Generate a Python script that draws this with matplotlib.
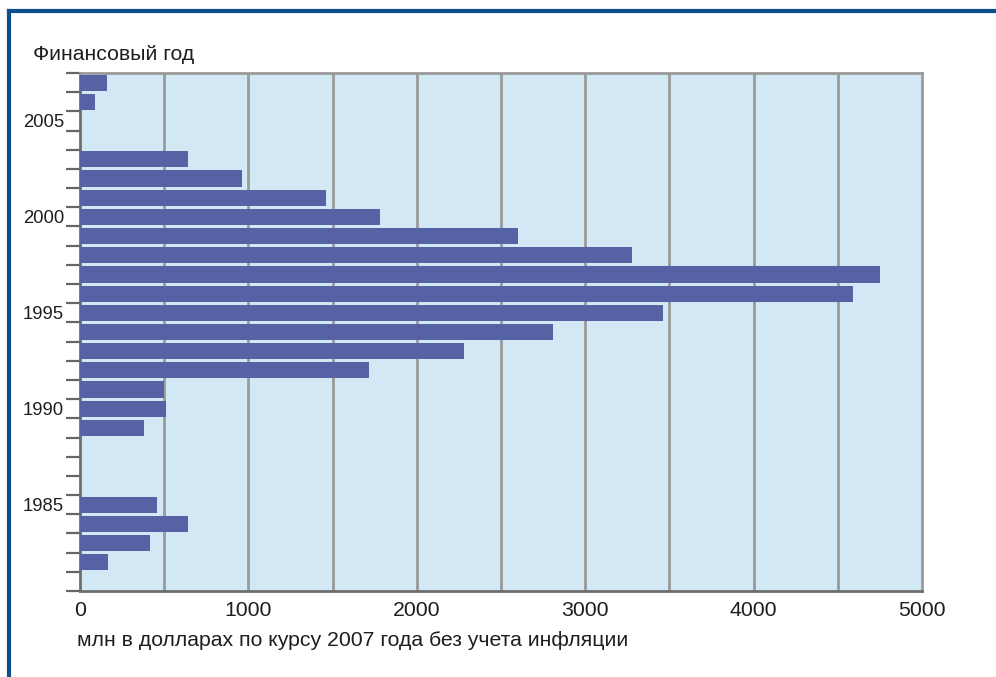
import numpy as np
import matplotlib.pyplot as plt
from matplotlib.lines import Line2D

# финансовые годы и значения (млн долларов, курс 2007 г.)
years = [2007, 2006, 2005, 2004, 2003, 2002, 2001, 2000, 1999, 1998, 1997, 1996,
         1995, 1994, 1993, 1992, 1991, 1990, 1989, 1988, 1987, 1986, 1985, 1984,
         1983, 1982]
values = [160, 89, 0, 0, 641, 962, 1461, 1781, 2601, 3278, 4751, 4590,
          3462, 2809, 2280, 1716, 499, 511, 380, 0, 0, 0, 457, 641,
          416, 166]
year_labels = [1985, 1990, 1995, 2000, 2005]
x_ticks = [0, 1000, 2000, 3000, 4000, 5000]

plt.rcParams['font.family'] = ['Liberation Sans', 'DejaVu Sans']
FS = 15.3
TXT = '#1e1e1e'

W, H = 996, 677
fig = plt.figure(figsize=(W / 100, H / 100), dpi=100)
ax = fig.add_axes([80 / W, (H - 591) / H, 842 / W, 518 / H])
ax.set_facecolor('#d3e8f5')

ax.barh(years, values, height=0.84, color='#5563a5', zorder=3)

ax.set_xlim(0, 5000)
ax.set_ylim(1980.5, 2007.5)

# вертикальная сетка каждые 500
for gx in np.arange(500, 5000, 500):
    ax.axvline(gx, color='#9a9a9a', lw=2, zorder=1)

ax.set_xticks(x_ticks)
ax.set_xticklabels([str(v) for v in x_ticks], fontsize=FS, color=TXT)
ax.tick_params(axis='x', length=0, pad=7)

ax.set_yticks(year_labels)
ax.set_yticklabels([str(y) for y in year_labels], fontsize=13.3, color=TXT)
ax.set_yticks(np.arange(1980.5, 2008, 1), minor=True)
ax.tick_params(axis='y', which='major', length=0, pad=11.5)
ax.tick_params(axis='y', which='minor', length=10, width=1.6, color='#666666', direction='out')

for side in ['left', 'bottom']:
    ax.spines[side].set_color('#6e6e6e')
    ax.spines[side].set_linewidth(2)
for side in ['top', 'right']:
    ax.spines[side].set_color('#9a9a9a')
    ax.spines[side].set_linewidth(2)

fig.text(33 / W, 1 - 54 / H, 'Финансовый год', fontsize=FS, color=TXT, va='center')
fig.text(77 / W, 1 - 640 / H, 'млн в долларах по курсу 2007 года без учета инфляции',
         fontsize=FS, color=TXT, va='center')

# рамка сверху и слева
fig.add_artist(Line2D([9 / W, 1], [1 - 11 / H, 1 - 11 / H], color='#0d4e8c', lw=3))
fig.add_artist(Line2D([9 / W, 9 / W], [0, 1 - 11 / H], color='#0d4e8c', lw=3))

fig.savefig('out.png', dpi=100)
